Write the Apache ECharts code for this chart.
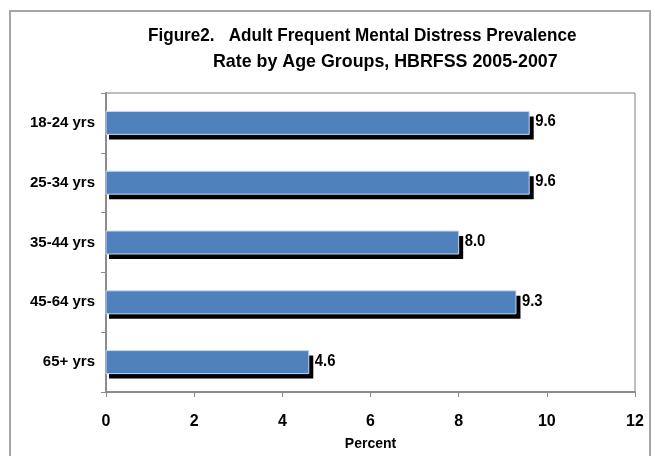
<!DOCTYPE html>
<html>
<head>
<meta charset="utf-8">
<script src="https://cdn.jsdelivr.net/npm/echarts@6/dist/echarts.min.js"></script>
<style>
  html, body { margin: 0; padding: 0; background: #fff; }
  #chart { width: 655px; height: 456px; }
</style>
</head>
<body>
<div id="chart"></div>
<script>
// Age groups and prevalence (%) of frequent mental distress
const ageGroups = ['18-24 yrs', '25-34 yrs', '35-44 yrs', '45-64 yrs', '65+ yrs'];
const prevalence = [9.6, 9.6, 8.0, 9.3, 4.6];
const percentTicks = [0, 2, 4, 6, 8, 10, 12];

const titleLine1 = 'Figure2.   Adult Frequent Mental Distress Prevalence';
const titleLine2 = 'Rate by Age Groups, HBRFSS 2005-2007';

const FONT = "'Liberation Sans Narrow', 'Arial Narrow', 'Liberation Sans', Arial, sans-serif";
const BAR_H = 23;

const chart = echarts.init(document.getElementById('chart'), null, { renderer: 'canvas' });

// Each bar: black drop shadow, blue body with a pale edge, and its value label
function renderBar(params, api) {
  const val = api.value(0);
  const cat = api.value(1);
  const start = api.coord([0, cat]);
  const end = api.coord([val, cat]);
  const w = end[0] - start[0];
  const top = start[1] - BAR_H / 2;
  return {
    type: 'group',
    children: [
      {
        type: 'rect',
        shape: { x: start[0] + 3, y: top + 5, width: w + 1.5, height: BAR_H },
        style: { fill: '#000000' }
      },
      {
        type: 'rect',
        shape: { x: start[0], y: top, width: w, height: BAR_H },
        style: { fill: '#4f81bd', stroke: '#c5d9f1', lineWidth: 1 }
      },
      {
        type: 'text',
        x: end[0] + 6,
        y: start[1] - 1,
        scaleX: 0.9,
        style: {
          text: val.toFixed(1),
          fontFamily: FONT, fontSize: 16.5, fontWeight: 'bold', fill: '#000',
          align: 'left', verticalAlign: 'middle'
        }
      }
    ]
  };
}

chart.setOption({
  animation: false,
  backgroundColor: '#ffffff',
  graphic: [
    {
      // outer figure frame
      type: 'rect',
      shape: { x: 10, y: 11, width: 640, height: 460 },
      style: { fill: 'none', stroke: '#a6a6a6', lineWidth: 2 },
      silent: true
    },
    {
      type: 'text',
      x: 148, y: 36, scaleX: 0.9,
      style: {
        text: titleLine1, fontFamily: FONT, fontSize: 19, fontWeight: 'bold',
        fill: '#000', align: 'left', verticalAlign: 'middle'
      }
    },
    {
      type: 'text',
      x: 213, y: 62, scaleX: 0.938,
      style: {
        text: titleLine2, fontFamily: FONT, fontSize: 19, fontWeight: 'bold',
        fill: '#000', align: 'left', verticalAlign: 'middle'
      }
    }
  ],
  grid: {
    left: 106, right: 20, top: 93, bottom: 59,
    show: true,
    borderColor: '#7f7f7f',
    borderWidth: 1,
    backgroundColor: 'transparent'
  },
  xAxis: {
    type: 'value',
    min: percentTicks[0],
    max: percentTicks[percentTicks.length - 1],
    interval: 2,
    name: 'Percent',
    nameLocation: 'middle',
    nameGap: 45,
    nameTextStyle: { fontFamily: FONT, fontSize: 14, fontWeight: 'bold', color: '#000' },
    axisLine: { show: true, lineStyle: { color: '#8c8c8c', width: 2 } },
    axisTick: { show: true, inside: false, length: 5, lineStyle: { color: '#8c8c8c', width: 1 } },
    axisLabel: {
      fontFamily: FONT, fontSize: 16, fontWeight: 'bold', color: '#000', margin: 22,
      formatter: v => String(v)
    },
    splitLine: { show: false }
  },
  yAxis: {
    type: 'category',
    data: ageGroups,
    inverse: true,
    axisLine: { show: true, lineStyle: { color: '#8c8c8c', width: 2 } },
    axisTick: { show: true, inside: false, length: 5, lineStyle: { color: '#8c8c8c', width: 1 } },
    axisLabel: { fontFamily: FONT, fontSize: 15, fontWeight: 'bold', color: '#000', margin: 11 },
    splitLine: { show: false }
  },
  series: [
    {
      type: 'custom',
      renderItem: renderBar,
      encode: { x: 0, y: 1 },
      data: prevalence.map((v, i) => [v, i])
    }
  ]
});
</script>
</body>
</html>
